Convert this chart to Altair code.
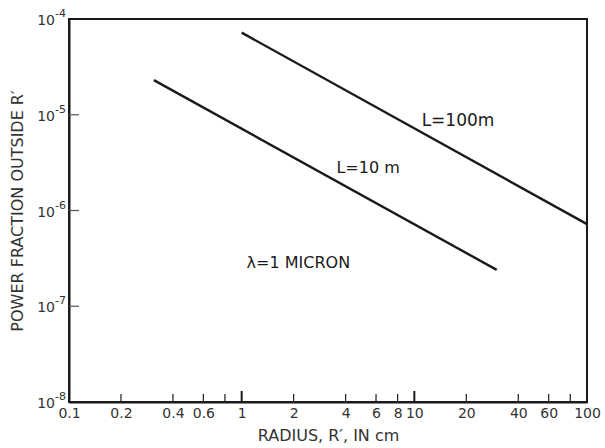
import altair as alt
import pandas as pd

# Curves: power fraction outside radius R' for two path lengths (lambda = 1 micron)
l10_radius = [0.31, 30.0]
l10_power = [2.3e-5, 2.4e-7]
l100_radius = [1.0, 100.0]
l100_power = [7.2e-5, 7.2e-7]

# Axis ticks
x_label_values = [0.1, 0.2, 0.4, 0.6, 1, 2, 4, 6, 8, 10, 20, 40, 60, 100]
x_minor_ticks = [0.2, 0.4, 0.6, 0.8, 2, 4, 6, 8, 20, 40, 60, 80]
x_major_ticks = [1, 10]
y_tick_values = [1e-8, 1e-7, 1e-6, 1e-5, 1e-4]
y_tick_exponents = ["-8", "-7", "-6", "-5", "-4"]
y_inner_ticks = [1e-7, 1e-6, 1e-5]

# Annotations
note_text = ["L=100m", "L=10 m", "λ=1 MICRON"]
note_radius = [17.9, 5.4, 2.13]
note_power = [8.7e-6, 2.75e-6, 2.85e-7]
note_size = [17, 16, 16]

W, H = 518, 383
FONT = "DejaVu Sans"
INK = "#1a1a1a"

curves = pd.DataFrame({
    "radius": l10_radius + l100_radius,
    "power": l10_power + l100_power,
    "series": ["L=10 m"] * 2 + ["L=100 m"] * 2,
})

xscale = alt.Scale(type="log", domain=[0.1, 100], nice=False)
yscale = alt.Scale(type="log", domain=[1e-8, 1e-4], nice=False)

x_axis = alt.Axis(
    values=x_label_values, labelExpr="format(datum.value, '~g')", ticks=False,
    grid=False, domainColor=INK, domainWidth=2, labelFont=FONT, labelFontSize=14,
    labelColor="#333", labelPadding=4, labelFlush=False,
    title="RADIUS, R′, IN cm", titleFont=FONT, titleFontSize=16,
    titleFontWeight="normal", titleColor="#333", titlePadding=7,
)
y_axis = alt.Axis(
    values=y_tick_values, labels=False, ticks=False, grid=False,
    domainColor=INK, domainWidth=2,
    title="POWER FRACTION OUTSIDE R′", titleFont=FONT, titleFontSize=16,
    titleFontWeight="normal", titleColor="#333", titlePadding=44,
)

lines = alt.Chart(curves).mark_line(color=INK, strokeWidth=2.4).encode(
    x=alt.X("radius:Q", scale=xscale, axis=x_axis),
    y=alt.Y("power:Q", scale=yscale, axis=y_axis),
    detail="series:N",
)

minor = alt.Chart(pd.DataFrame({"t": x_minor_ticks})).mark_rule(
    color=INK, strokeWidth=1.2).encode(
    x=alt.X("t:Q", scale=xscale), y=alt.value(H), y2=alt.value(H - 8))
major = alt.Chart(pd.DataFrame({"t": x_major_ticks})).mark_rule(
    color=INK, strokeWidth=2).encode(
    x=alt.X("t:Q", scale=xscale), y=alt.value(H), y2=alt.value(H - 11))
yt = alt.Chart(pd.DataFrame({"t": y_inner_ticks})).mark_rule(
    color="#555", strokeWidth=1.2).encode(
    y=alt.Y("t:Q", scale=yscale), x=alt.value(0), x2=alt.value(10))

# Decade labels on the power axis: "10" with a raised exponent
ylab = pd.DataFrame({"v": y_tick_values, "e": y_tick_exponents})
ybase = alt.Chart(ylab).mark_text(
    font=FONT, fontSize=14, color="#333", align="right", baseline="middle", dy=2
).encode(y=alt.Y("v:Q", scale=yscale), x=alt.value(-14), text=alt.value("10"))
yexp = alt.Chart(ylab).mark_text(
    font=FONT, fontSize=11, color="#333", align="left", baseline="middle", dy=-5
).encode(y=alt.Y("v:Q", scale=yscale), x=alt.value(-14), text="e:N")

notes = alt.Chart(pd.DataFrame({
    "radius": note_radius, "power": note_power, "text": note_text, "size": note_size,
})).mark_text(font=FONT, color=INK, align="center", baseline="middle").encode(
    x=alt.X("radius:Q", scale=xscale),
    y=alt.Y("power:Q", scale=yscale),
    text="text:N",
    size=alt.Size("size:Q", scale=None, legend=None),
)

chart = alt.layer(lines, minor, major, yt, ybase, yexp, notes).properties(
    width=W, height=H,
    autosize=alt.AutoSizeParams(type="none"),
    padding={"left": 69, "top": 19, "right": 18, "bottom": 46},
    background="white",
).configure_view(stroke=INK, strokeWidth=2)

chart.save("out.html", embed_options={"renderer": "svg", "actions": False})
